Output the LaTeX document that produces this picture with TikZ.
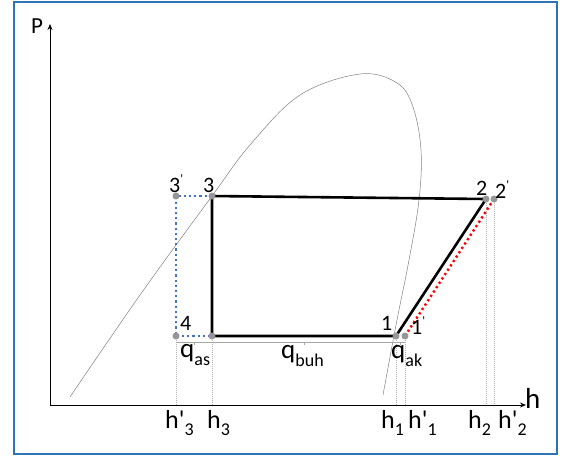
\documentclass[tikz,border=0pt]{standalone}
\usepackage{fontspec}
\setmainfont{Carlito}
\usetikzlibrary{arrows.meta}
\definecolor{frameblue}{RGB}{46,117,182}
\definecolor{dotblue}{RGB}{68,114,196}
\definecolor{ptgray}{RGB}{150,150,150}
\newcommand\sbs[1]{\raisebox{-0.3em}{\fontsize{18}{18}\selectfont #1}}
\newcommand\prm{\raisebox{0.4em}{\fontsize{13}{13}\selectfont\textquotesingle}}
\begin{document}
\begin{tikzpicture}[x=1pt,y=-1pt,
 pt/.style={circle,fill=ptgray,inner sep=0pt,minimum size=7pt},
 cyc/.style={line width=2.6pt,black,line join=round},
 bdot/.style={dotblue,line width=2.2pt,dash pattern=on 2.2pt off 3pt},
 rdot/.style={red,line width=2.4pt,dash pattern=on 2.2pt off 3pt},
 guide/.style={gray!60,line width=0.5pt,dash pattern=on 1pt off 1pt},
 brk/.style={gray!70,line width=0.6pt},
 plab/.style={font=\fontsize{22}{22}\selectfont,inner sep=0pt,anchor=base west},
 qlab/.style={font=\fontsize{27}{27}\selectfont,inner sep=0pt,anchor=base west},
 hlab/.style={font=\fontsize{26}{26}\selectfont,inner sep=0pt,anchor=base west},
 axis/.style={line width=0.8pt,-{Stealth[length=6pt,width=5pt]}}]

\useasboundingbox (0,0) rectangle (564,459);
\draw[frameblue,line width=2.8pt] (14,2) rectangle (557,454);

% saturation dome
\draw[gray,line width=0.5pt] plot[smooth,tension=0.6] coordinates {(70,397) (140,295) (212,196) (250,145) (300,95) (360,74) (397,83) (413,107) (421,150) (419,200) (409,260) (396,325) (383,395)};

% axes
\coordinate (O) at (50,405);
\coordinate (Ytop) at (50,24);
\coordinate (Xend) at (526,405);
\draw[axis] (O) -- (Ytop);
\draw[axis] (O) -- (Xend);

% state points
\coordinate (c3a) at (176,196);
\coordinate (c3) at (212,196);
\coordinate (c2) at (486,199);
\coordinate (c2a) at (494,199);
\coordinate (c1) at (396,336);
\coordinate (c1a) at (405,336);
\coordinate (c4) at (176,336);
\coordinate (c5) at (212,336);

% axis feet
\coordinate (a3a) at (176,405);
\coordinate (a3) at (212,405);
\coordinate (a1) at (396,405);
\coordinate (a1a) at (405,405);
\coordinate (a2) at (486,405);
\coordinate (a2a) at (494,405);

% guides
\draw[guide] (c4) -- (a3a);
\draw[guide] (c5) -- (a3);
\draw[guide] (c1) -- (a1);
\draw[guide] (c1a) -- (a1a);
\draw[guide] (c2) -- (a2);
\draw[guide] (c2a) -- (a2a);

% brackets
\coordinate (b1) at (176,342);
\coordinate (b2) at (405,342);
\draw[brk] (b1) -- (b2);
\coordinate (t1) at (194,342);
\coordinate (t2) at (304,342);
\coordinate (t3) at (400,342);
\draw[brk] (t1) -- ++(0,3);
\draw[brk] (t2) -- ++(0,3);
\draw[brk] (t3) -- ++(0,3);

% cycle
\draw[bdot] (c3) -- (c3a) -- (c4) -- (c5);
\draw[rdot] (c1a) -- (c2a);
\draw[cyc] (c3) -- (c2) -- (c1) -- (c5) -- cycle;

% point markers
\node[pt] (p3a) at (c3a) {};
\node[pt] (p3) at (c3) {};
\node[pt] (p2) at (c2) {};
\node[pt] (p2a) at (c2a) {};
\node[pt] (p1) at (c1) {};
\node[pt] (p1a) at (c1a) {};
\node[pt] (p4) at (c4) {};
\node[pt] (p5) at (c5) {};

% point labels
\node[plab] (l3a) at (169,192) {3\prm};
\node[plab] (l3) at (203,192) {3};
\node[plab] (l2) at (476,195) {2};
\node[plab] (l2a) at (495,198) {2\prm};
\node[plab] (l1) at (381,330) {1};
\node[plab] (l1a) at (411,334) {1\prm};
\node[plab] (l4) at (180,330) {4};

% q labels
\node[qlab] (qas) at (180,357) {q\sbs{as}};
\node[qlab] (qbuh) at (281,358) {q\sbs{buh}};
\node[qlab] (qak) at (391,358) {q\sbs{ak}};

% h labels
\node[hlab] (h3a) at (165,428) {h\textquotesingle\sbs{3}};
\node[hlab] (h3) at (207,428) {h\sbs{3}};
\node[hlab] (h1) at (381,428) {h\sbs{1}};
\node[hlab] (h1a) at (408,428) {h\textquotesingle\sbs{1}};
\node[hlab] (h2) at (468,428) {h\sbs{2}};
\node[hlab] (h2a) at (498,428) {h\textquotesingle\sbs{2}};

% axis labels
\node[inner sep=0pt,anchor=base west,font=\fontsize{23}{23}\selectfont] (P) at (31,33) {P};
\node[inner sep=0pt,anchor=base west,font=\fontsize{29}{29}\selectfont] (h) at (525,408) {h};
\end{tikzpicture}
\end{document}
